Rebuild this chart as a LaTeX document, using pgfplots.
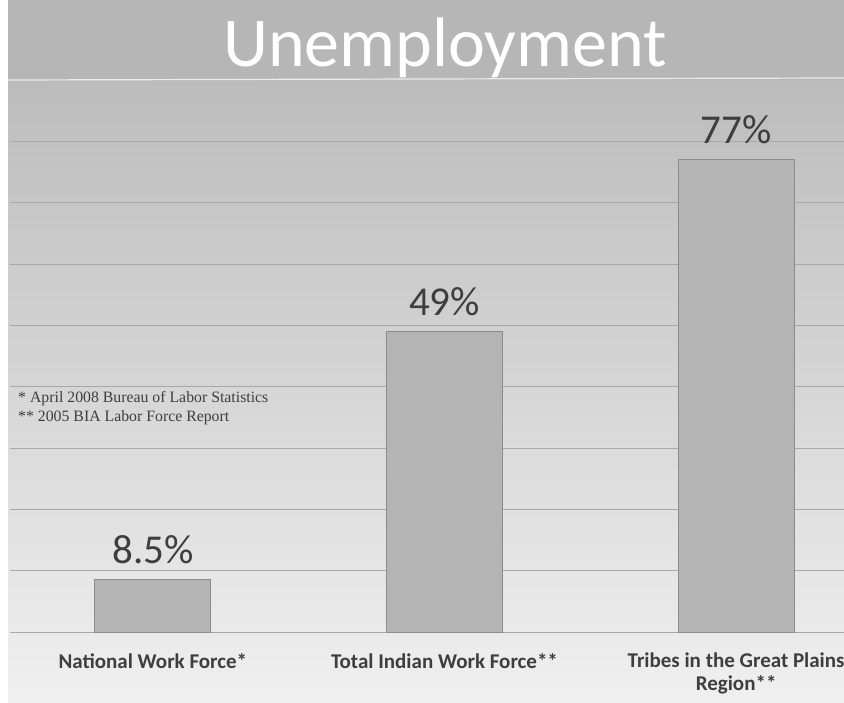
\documentclass[border=0pt]{standalone}
\usepackage{pgfplots}
\pgfplotsset{compat=1.18}
\usepackage{fontspec}
\setmainfont{Carlito}
\newfontfamily\timesf{Liberation Serif}
\definecolor{bandgray}{RGB}{182,182,182}
\definecolor{bgtop}{RGB}{188,188,188}
\definecolor{bgbottom}{RGB}{240,240,240}
\definecolor{barfill}{RGB}{180,180,180}
\definecolor{baredge}{RGB}{140,140,140}
\definecolor{gridc}{RGB}{168,168,168}
\definecolor{txt}{RGB}{62,62,62}
\begin{document}
\begin{tikzpicture}[x=1pt,y=1pt]
\useasboundingbox (0,0) rectangle (844,702);
\fill[white] (0,0) rectangle (844,702);
\shade[top color=bgtop, bottom color=bgbottom] (8,0) rectangle (844,622);
\fill[bandgray] (8,622) rectangle (844,702);
\draw[white!75!bandgray, line width=1.2pt] (8,622) -- (844,624);
\node[white, anchor=base, inner sep=0, font=\fontsize{70}{74}\selectfont] at (445,635) {Unemployment};
\node[txt, anchor=base west, inner sep=0, font=\timesf\fontsize{15.8}{18}\selectfont] at (18,299) {* April 2008 Bureau of Labor Statistics};
\node[txt, anchor=base west, inner sep=0, font=\timesf\fontsize{15.8}{18}\selectfont] at (18,280) {** 2005 BIA Labor Force Report};
\begin{axis}[
    at={(10pt,70pt)}, anchor=south west,
    scale only axis, width=834pt, height=552pt,
    ybar, bar width=116pt,
    xmin=-0.49, xmax=2.37,
    ymin=0, ymax=90,
    ytick={0,10,...,80}, yticklabels={},
    ymajorgrids, grid style={gridc, line width=0.6pt},
    axis line style={draw=none},
    major tick length=0pt,
    xtick=data,
    xticklabels={National Work Force*, Total Indian Work Force**, {Tribes in the Great Plains\\Region**}},
    xticklabel style={font=\bfseries\fontsize{21}{23}\selectfont, text=txt, align=center, anchor=north, inner sep=0pt, yshift=-21pt},
    /pgf/number format/assume math mode=true,
    nodes near coords={\pgfmathprintnumber{\pgfplotspointmeta}\%},
    every node near coord/.append style={font=\fontsize{41}{44}\selectfont, text=txt, anchor=base, inner sep=0pt, yshift=16pt},
    clip=false
]
\addplot[fill=barfill, draw=baredge, line width=0.8pt] coordinates {(0,8.5) (1,49) (2,77)};
\end{axis}
\end{tikzpicture}
\end{document}
